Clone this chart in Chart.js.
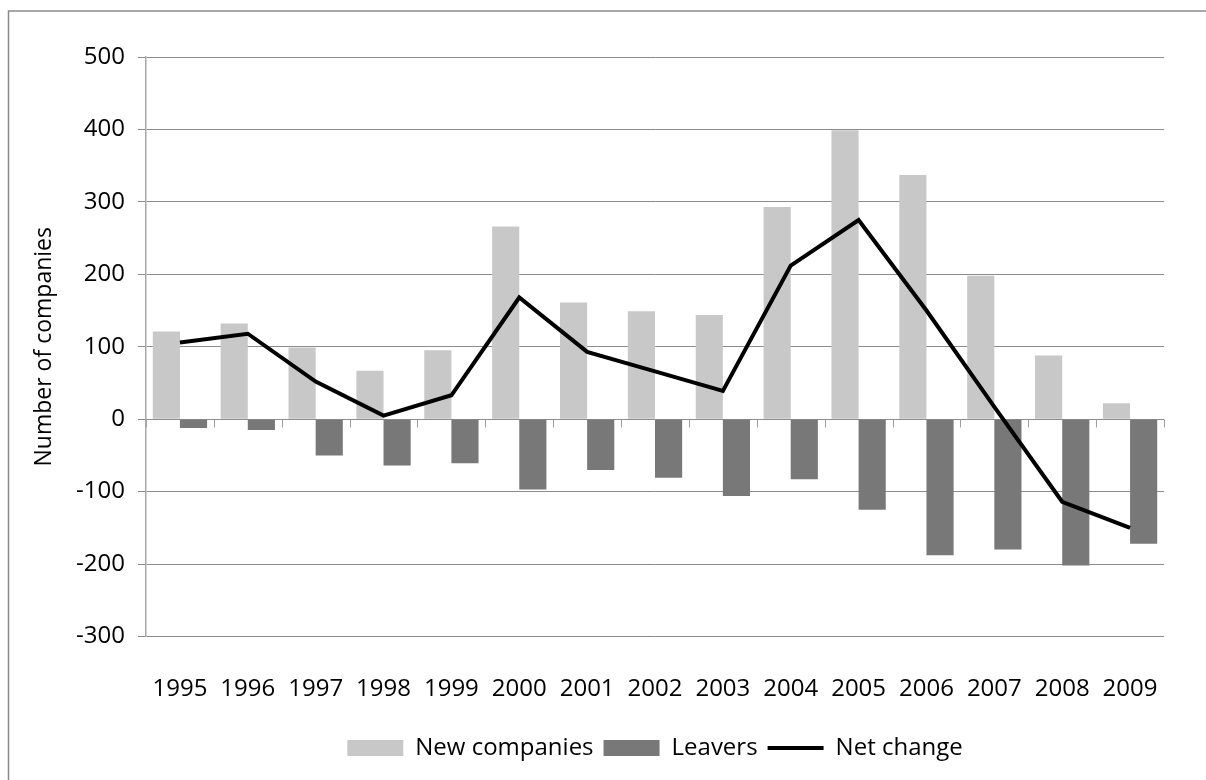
<!DOCTYPE html>
<html><head><meta charset="utf-8">
<script src="https://cdn.jsdelivr.net/npm/chart.js@4/dist/chart.umd.min.js"></script>
<style>html,body{margin:0;background:#fff}#wrap{width:1206px;height:780px}</style>
</head><body><div id="wrap"><canvas id="chart" width="1206" height="780"></canvas></div>
<script>
const years=['1995','1996','1997','1998','1999','2000','2001','2002','2003','2004','2005','2006','2007','2008','2009'];
const newCompanies=[121,132,99,67,95,266,161,149,144,293,399,337,198,88,22];
const leavers=[-12,-15,-50,-64,-61,-97,-70,-81,-106,-83,-125,-188,-180,-202,-172];
const netChange=[106,118,52,5,33,168,93,66,39,212,275,150,17,-114,-150];
const yTicks=[-300,-200,-100,0,100,200,300,400,500];

const FONT='"Open Sans", sans-serif', GRID='#8c8c8c';

// page frame + small tick marks where Excel puts them on the zero line
const frame={id:'frame',
  beforeDraw(c){const x=c.ctx;x.save();x.fillStyle='#fff';x.fillRect(0,0,c.width,c.height);
    x.strokeStyle='#8a8a8a';x.lineWidth=1.5;x.strokeRect(8.5,11,1400,1000);x.restore();},
  beforeDatasetsDraw(c){const x=c.ctx,xs=c.scales.x,y0=Math.round(c.scales.y.getPixelForValue(0))+0.5;
    x.save();x.strokeStyle='#a0a0a0';x.lineWidth=1;x.beginPath();
    for(let i=0;i<=years.length;i++){const px=Math.round(xs.left+i*(xs.width/years.length))+0.5;x.moveTo(px,y0);x.lineTo(px,y0+8);}
    x.stroke();x.restore();}
};

new Chart(document.getElementById('chart').getContext('2d'),{
  data:{labels:years,datasets:[
    {type:'bar',label:'New companies',data:newCompanies,backgroundColor:'#c8c8c8',order:1,categoryPercentage:0.8,barPercentage:1},
    {type:'bar',label:'Leavers',data:leavers,backgroundColor:'#787878',order:1,categoryPercentage:0.8,barPercentage:1},
    {type:'line',label:'Net change',data:netChange,borderColor:'#000',backgroundColor:'#000',borderWidth:4,pointRadius:0,tension:0,order:0}
  ]},
  options:{responsive:false,animation:false,
    layout:{padding:{top:57,right:42,bottom:10,left:0}},
    plugins:{tooltip:{enabled:false},
      legend:{position:'bottom',fullSize:false,
        labels:{font:{family:FONT,size:24},color:'#000',padding:10,boxHeight:16,usePointStyle:true,pointStyleWidth:56,
          sort:(a,b)=>a.datasetIndex-b.datasetIndex,
          generateLabels(c){const l=Chart.defaults.plugins.legend.labels.generateLabels(c);
            l.forEach(it=>{const ds=c.data.datasets[it.datasetIndex];
              if(ds.type==='line'){it.pointStyle='line';it.strokeStyle='#000';it.lineWidth=4;}
              else{it.pointStyle='rect';it.fillStyle=ds.backgroundColor;it.lineWidth=0;}});
            return l;}}}},
    scales:{
      x:{grid:{display:false},border:{display:false},
        ticks:{font:{family:FONT,size:24},color:'#000',padding:30,maxRotation:0},
        afterFit(s){s.height=89.5;}},
      y:{min:-300,max:500,afterBuildTicks(s){s.ticks=yTicks.map(v=>({value:v}));},
        grid:{color:GRID,tickLength:8},border:{color:'#a8a8a8',width:1.5},
        ticks:{font:{family:FONT,size:24},color:'#000',padding:13},
        title:{display:true,text:'Number of companies',font:{family:FONT,size:23},color:'#000',padding:{top:31,bottom:0}},
        afterFit(s){s.width=146;}}
    }
  },
  plugins:[frame]
});
</script></body></html>
